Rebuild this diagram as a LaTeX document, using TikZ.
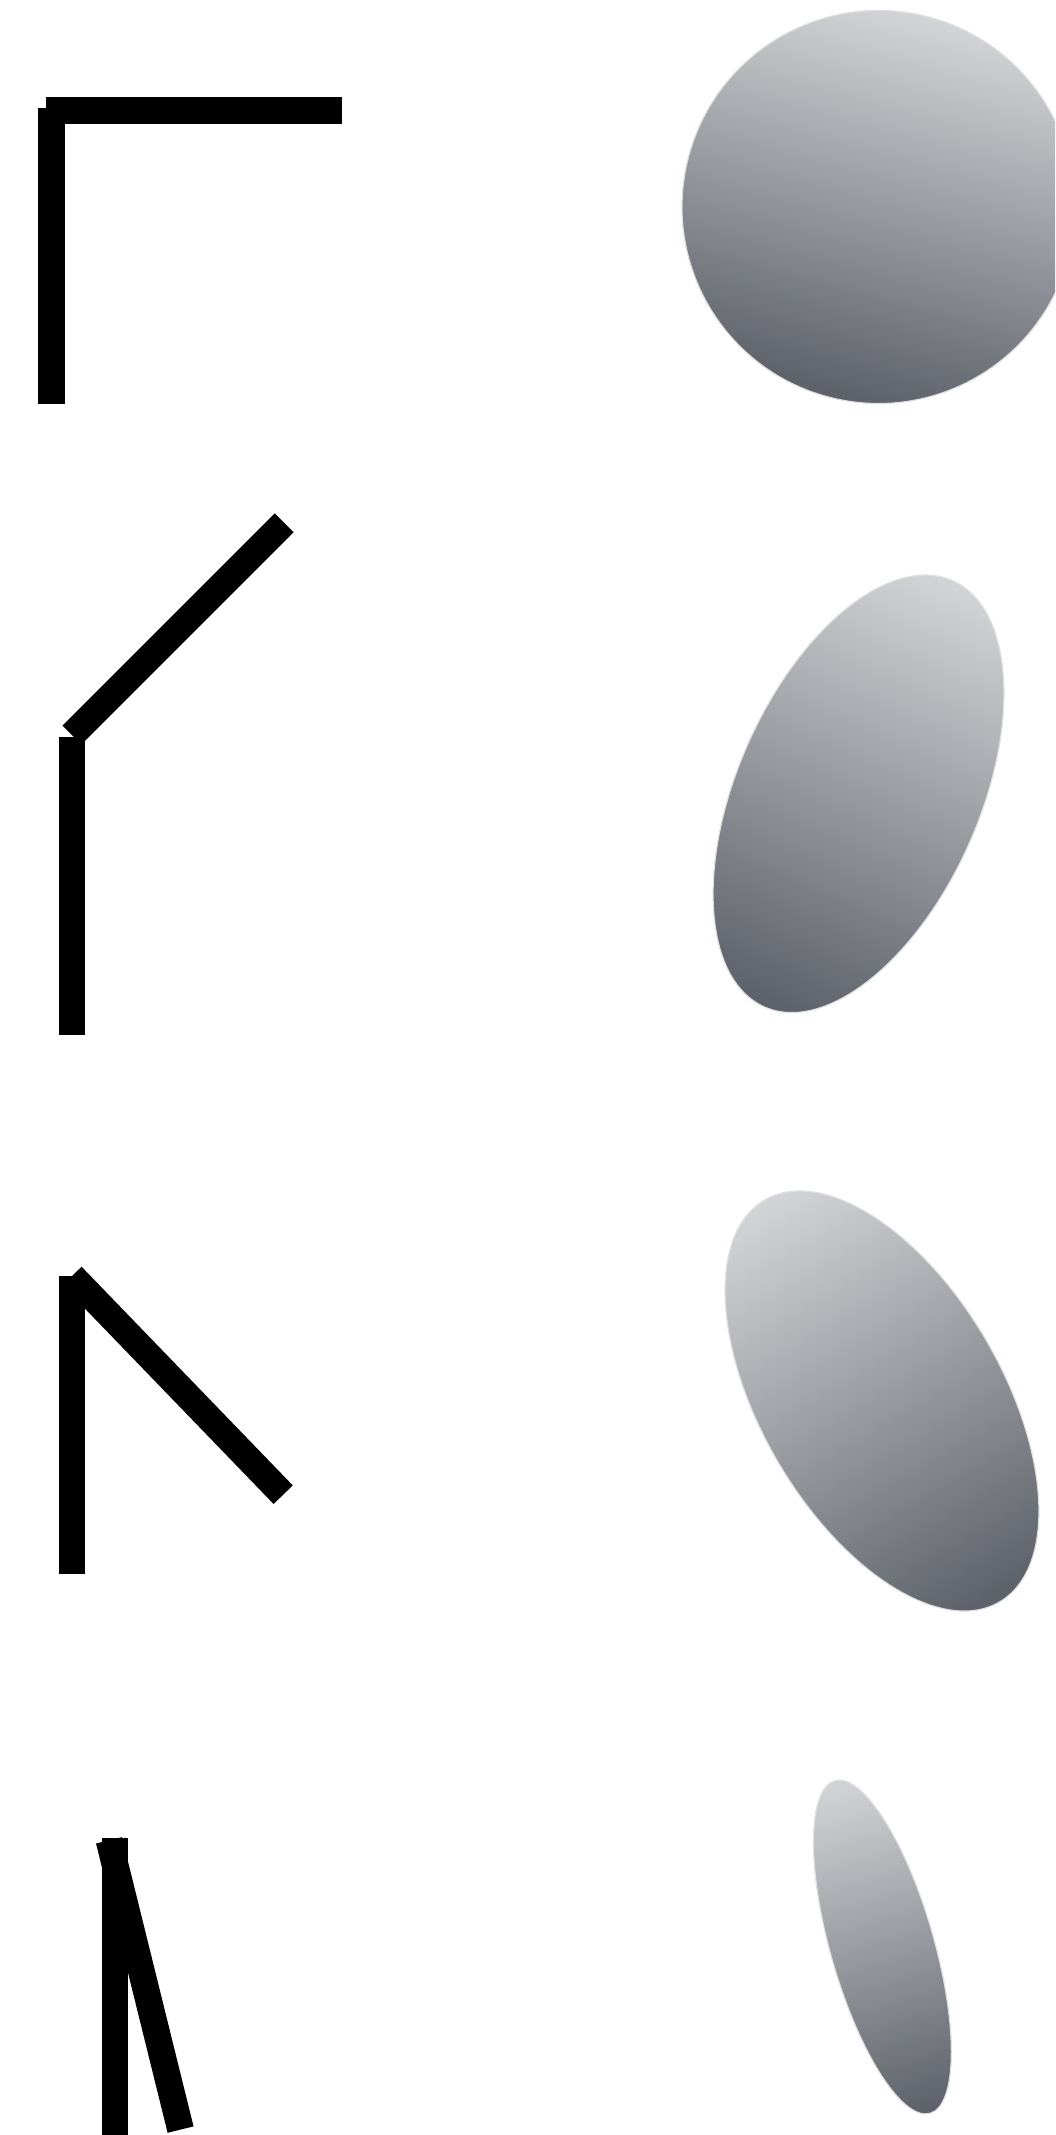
\documentclass[tikz,border=0pt]{standalone}
\definecolor{disclight}{RGB}{211,212,215}
\definecolor{discdark}{RGB}{92,96,104}

\begin{document}
\begin{tikzpicture}[
    x=1pt, y=1pt,
    arm/.style={line width=26.7pt},
    disc/.style={
      top color=disclight, bottom color=discdark,
      draw=black!12, line width=1.2pt
    },
  ]
    \useasboundingbox (0,0) rectangle (1055,-2135);
    \clip (0,0) rectangle (1055,-2135);

    % angles
    \coordinate (c1) at (51.5,-110.5);
    \draw[arm] ([yshift=2.5pt]c1) -- ++(0,-296);
    \draw[arm] ([xshift=-5.5pt]c1) -- ++(296,0);

    \coordinate (c2) at (72,-737);
    \draw[arm] (c2) -- ++(0,-298);
    \draw[arm] ([yshift=2pt]c2) -- ++(45:300);

    \coordinate (c3) at (72,-1276);
    \draw[arm] (c3) -- ++(0,-298);
    \draw[arm] (c3) -- ++(-46:304);

    \coordinate (c4) at (115,-1838);
    \draw[arm] (c4) -- ++(0,-300);
    \draw[arm] ([shift={(-6,-2.3)}]c4) -- ++(-76.1:298);

    % discs
    \begin{scope}[transform canvas={shift={(878.5,-207)}, rotate=-15}]
      \shade[disc] (0,0) circle [radius=196.5];
    \end{scope}
    \begin{scope}[transform canvas={shift={(858.5,-793.8)}, rotate=-23.8}]
      \shade[disc] (0,0) ellipse [x radius=121.3, y radius=233];
    \end{scope}
    \begin{scope}[transform canvas={shift={(882,-1401)}, rotate=30.3}]
      \shade[disc] (0,0) ellipse [x radius=120.6, y radius=232.8];
    \end{scope}
    \begin{scope}[transform canvas={shift={(882.4,-1947)}, rotate=16}]
      \shade[disc] (0,0) ellipse [x radius=51.8, y radius=173];
    \end{scope}
  \end{tikzpicture}
\end{document}
